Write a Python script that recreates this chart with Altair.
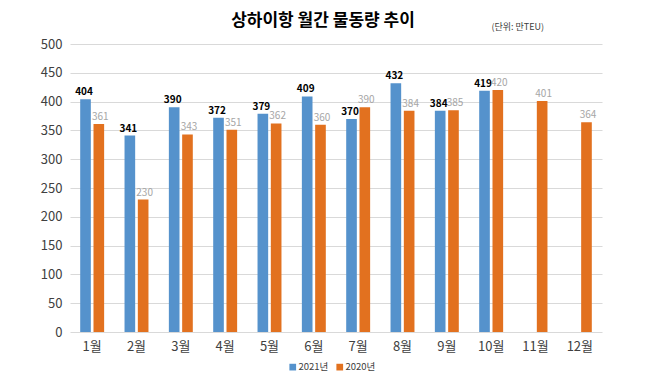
import altair as alt
import pandas as pd

months = ["1월", "2월", "3월", "4월", "5월", "6월", "7월", "8월", "9월", "10월", "11월", "12월"]
series = ["2021년", "2020년"]
v2021 = [404, 341, 390, 372, 379, 409, 370, 432, 384, 419, None, None]
v2020 = [361, 230, 343, 351, 362, 360, 390, 384, 385, 420, 401, 364]
y_ticks = [0, 50, 100, 150, 200, 250, 300, 350, 400, 450, 500]

rows = []
for m, a, b in zip(months, v2021, v2020):
    if a is not None:
        rows.append({"month": m, "series": "2021년", "value": a})
    if b is not None:
        rows.append({"month": m, "series": "2020년", "value": b})
df = pd.DataFrame(rows)

FONT = "Noto Sans CJK KR"
colors = ["#5592CC", "#E2711F"]

x = alt.X("month:N", sort=months, title=None,
          scale=alt.Scale(domain=months, paddingInner=0.46, paddingOuter=0.23),
          axis=alt.Axis(labelAngle=0, labelFontSize=13, labelColor="#404040", labelPadding=8,
                        domain=False, ticks=False, labelFont=FONT))
xo = alt.XOffset("series:N", sort=series, scale=alt.Scale(domain=series, paddingInner=0.2))
y = alt.Y("value:Q", title=None,
          scale=alt.Scale(domain=[0, 500], nice=False),
          axis=alt.Axis(values=y_ticks, labelFontSize=13, labelColor="#404040", domain=False,
                        ticks=False, labelPadding=8, gridColor="#D9D9D9", labelFont=FONT,
                        labelOverlap=False))

base = alt.Chart(df)

bars = base.mark_bar().encode(
    x=x,
    xOffset=xo,
    y=y,
    color=alt.Color("series:N", sort=series,
                    scale=alt.Scale(domain=series, range=colors),
                    legend=alt.Legend(title=None, orient="none", direction="horizontal",
                                      legendX=218, legendY=318, symbolType="square",
                                      symbolSize=45, labelFontSize=9.5, labelColor="#404040",
                                      labelFont=FONT, columnPadding=6, symbolOffset=0,
                                      labelOffset=1)),
)

lab21 = base.transform_filter(alt.datum.series == "2021년").mark_text(
    dy=-7, dx=-1.5, fontSize=10, fontWeight="bold", color="#000000", font=FONT
).encode(x=x, xOffset=xo, y=y, text="value:Q")

lab20 = base.transform_filter(alt.datum.series == "2020년").mark_text(
    dy=-7, dx=1.5, fontSize=10, color="#A6A6A6", font=FONT
).encode(x=x, xOffset=xo, y=y, text="value:Q")

unit = alt.Chart(pd.DataFrame({"t": ["(단위: 만TEU)"]})).mark_text(
    align="right", baseline="middle", fontSize=9, color="#404040", font=FONT
).encode(x=alt.value(474), y=alt.value(-17), text="t:N")

chart = alt.layer(bars, lab21, lab20, unit).properties(
    width=532, height=288,
    title=alt.Title("상하이항 월간 물동량 추이", fontSize=17, fontWeight="bold", font=FONT,
                    anchor="middle", dx=-13, offset=-7, color="#000000"),
    autosize=alt.AutoSizeParams(type="none"),
    padding={"left": 62, "top": 36, "right": 36, "bottom": 41},
).configure_view(stroke=None).configure_axis(labelFont=FONT)

chart.save("out.html", embed_options={"renderer": "svg", "actions": False})
